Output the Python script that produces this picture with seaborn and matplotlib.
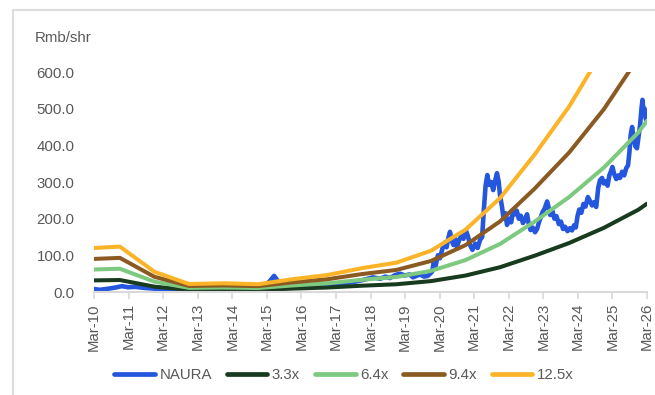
import matplotlib
matplotlib.use("Agg")
import matplotlib.pyplot as plt
from matplotlib.lines import Line2D
import seaborn as sns
import pandas as pd

# ---------------- data ----------------
tick_labels = ["Mar-10", "Mar-11", "Mar-12", "Mar-13", "Mar-14", "Mar-15", "Mar-16", "Mar-17",
               "Mar-18", "Mar-19", "Mar-20", "Mar-21", "Mar-22", "Mar-23", "Mar-24", "Mar-25", "Mar-26"]
tick_years = [2010.17, 2011.17, 2012.17, 2013.17, 2014.17, 2015.17, 2016.17, 2017.17, 2018.17,
              2019.17, 2020.17, 2021.17, 2022.17, 2023.17, 2024.17, 2025.17, 2026.17]

# NAURA share price (Rmb/shr)
naura_t = [2010.17, 2010.34, 2010.58, 2010.78, 2010.98, 2011.15, 2011.36, 2011.65, 2011.94, 2012.22,
           2012.66, 2013.09, 2013.53, 2013.96, 2014.40, 2014.83, 2015.12, 2015.26, 2015.38, 2015.49,
           2015.70, 2015.99, 2016.42, 2016.85, 2017.29, 2017.72, 2018.01, 2018.24, 2018.45, 2018.60,
           2018.73, 2018.88, 2019.02, 2019.17, 2019.30, 2019.40, 2019.50, 2019.60, 2019.72, 2019.83,
           2019.95, 2020.00, 2020.05, 2020.12, 2020.18, 2020.25, 2020.32, 2020.37, 2020.43, 2020.47,
           2020.52, 2020.57, 2020.62, 2020.67, 2020.73, 2020.80, 2020.86, 2020.93, 2020.99, 2021.05,
           2021.12, 2021.20, 2021.27, 2021.34, 2021.40, 2021.45, 2021.50, 2021.55, 2021.60, 2021.66,
           2021.72, 2021.78, 2021.83, 2021.88, 2021.92, 2021.97, 2022.02, 2022.07, 2022.12, 2022.18,
           2022.24, 2022.30, 2022.35, 2022.40, 2022.46, 2022.52, 2022.58, 2022.63, 2022.70, 2022.75,
           2022.80, 2022.86, 2022.93, 2022.99, 2023.05, 2023.10, 2023.15, 2023.21, 2023.28, 2023.32,
           2023.37, 2023.43, 2023.49, 2023.55, 2023.62, 2023.68, 2023.74, 2023.80, 2023.87, 2023.94,
           2024.00, 2024.06, 2024.11, 2024.16, 2024.21, 2024.27, 2024.33, 2024.39, 2024.46, 2024.52,
           2024.58, 2024.64, 2024.70, 2024.76, 2024.81, 2024.87, 2024.92, 2024.98, 2025.03, 2025.08,
           2025.13, 2025.17, 2025.22, 2025.28, 2025.34, 2025.39, 2025.45, 2025.51, 2025.57, 2025.62,
           2025.66, 2025.70, 2025.74, 2025.78, 2025.83, 2025.88, 2025.92, 2025.97, 2026.01, 2026.04,
           2026.07, 2026.10, 2026.13, 2026.17]
naura_px = [8, 6, 9, 12, 16, 13, 14, 11, 9, 7,
            6, 8, 10, 12, 11, 12, 18, 30, 44, 30,
            22, 18, 16, 20, 22, 28, 34, 40, 36, 42,
            38, 46, 50, 45, 48, 40, 44, 48, 42, 44,
            55, 80, 70, 100, 92, 118, 135, 122, 150, 164,
            140, 128, 145, 123, 140, 155, 145, 168, 152, 128,
            115, 132, 120, 142, 150, 225, 290, 319, 292, 300,
            278, 305, 324, 300, 262, 235, 200, 215, 183, 200,
            190, 224, 212, 222, 200, 208, 188, 196, 212, 185,
            169, 176, 163, 172, 192, 205, 218, 228, 247, 232,
            210, 222, 200, 207, 185, 192, 172, 178, 166, 174,
            168, 182, 176, 207, 225, 216, 240, 233, 259, 248,
            236, 245, 232, 285, 305, 311, 296, 302, 290, 318,
            330, 341, 322, 308, 318, 311, 328, 318, 338, 345,
            380, 430, 450, 420, 398, 392, 420, 455, 500, 524,
            490, 500, 474, 463]

# Valuation band base (per-share metric)
band_t = [2010.17, 2010.92, 2011.92, 2012.92, 2013.92, 2014.92, 2015.92, 2016.92, 2017.92,
          2018.92, 2019.92, 2020.92, 2021.92, 2022.92, 2023.92, 2024.92, 2025.92, 2026.17]
band_base = [9.6, 9.9, 4.4, 1.75, 1.9, 1.7, 2.8, 3.7, 5.2,
             6.4, 9.0, 13.6, 20.5, 30.0, 40.5, 53.0, 68.0, 73.0]
multiples = [3.3, 6.4, 9.4, 12.5]
band_names = ["3.3x", "6.4x", "9.4x", "12.5x"]

y_ticks = [0, 100, 200, 300, 400, 500, 600]

# ---------------- style ----------------
sns.set_theme(style="white")
plt.rcParams["font.family"] = ["Liberation Sans", "DejaVu Sans"]
txt = "#595959"
colors = {"NAURA": "#2456DE", "3.3x": "#183A1E", "6.4x": "#7DC97F",
          "9.4x": "#8A5A22", "12.5x": "#FBB328"}
fs = 10.8

fig = plt.figure(figsize=(6.55, 3.95), dpi=100)
ax = fig.add_axes([94/655, 1-292/395, (647-94)/655, (292-72)/395])

rows = []
for t, v in zip(naura_t, naura_px):
    rows.append({"t": t, "v": v, "series": "NAURA"})
for m, name in zip(multiples, band_names):
    for t, b in zip(band_t, band_base):
        rows.append({"t": t, "v": b * m, "series": name})
df = pd.DataFrame(rows)

order = ["NAURA", "3.3x", "6.4x", "9.4x", "12.5x"]
for i, name in enumerate(order):
    sub = df[df["series"] == name]
    sns.lineplot(data=sub, x="t", y="v", ax=ax, color=colors[name],
                 lw=3.3 if name == "NAURA" else 2.9,
                 sort=False, estimator=None, legend=False, zorder=2 + i * 0.1)

ax.set_xlim(tick_years[0], tick_years[-1])
ax.set_ylim(0, 600)
ax.set_xticks(tick_years)
ax.set_xticklabels(tick_labels, rotation=90, fontsize=fs, color=txt)
ax.set_yticks(y_ticks)
ax.set_yticklabels([f"{v:.1f}" for v in y_ticks], fontsize=fs, color=txt)
ax.set_xlabel("")
ax.set_ylabel("")
for s in ["top", "right", "left"]:
    ax.spines[s].set_visible(False)
ax.spines["bottom"].set_color("#D9D9D9")
ax.spines["bottom"].set_linewidth(1.5)
ax.tick_params(axis="x", which="both", bottom=True, length=5, width=1.2,
               color="#D9D9D9", pad=3)
ax.tick_params(axis="y", length=0, pad=14)
ax.grid(False)

fig.text(35/655, 1-38/395, "Rmb/shr", fontsize=fs, color=txt, va="center", ha="left")

handles = [Line2D([0], [0], color=colors[n], lw=3.4, solid_capstyle="round") for n in order]
fig.legend(handles, order, loc="center", bbox_to_anchor=(344/655, 1-375/395), ncol=5,
           frameon=False, fontsize=fs, handlelength=2.7, handletextpad=0.3,
           columnspacing=1.0, labelcolor=txt)

# outer frame (partially visible box)
fig.add_artist(Line2D([13/655, 13/655], [0, 1-10/395], transform=fig.transFigure,
                      color="#DDDDDD", lw=1.5))
fig.add_artist(Line2D([13/655, 1], [1-10/395, 1-10/395], transform=fig.transFigure,
                      color="#DDDDDD", lw=1.5))

fig.savefig("out.png", dpi=100)
